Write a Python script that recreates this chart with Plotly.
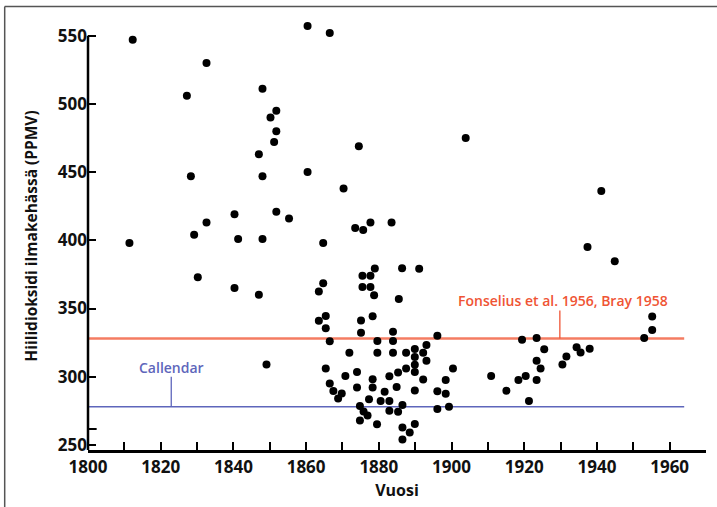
import plotly.graph_objects as go

# --- data ---
years = [1812.3, 1811.4, 1827.2, 1832.6, 1828.3, 1829.2, 1832.6, 1830.2, 1840.3, 1841.3,
         1840.3, 1847.0, 1848.0, 1847.0, 1848.0, 1848.0, 1849.1, 1850.2, 1851.8, 1851.8,
         1851.2, 1851.8, 1855.3, 1860.4, 1866.5, 1860.4, 1870.3, 1874.5, 1903.9, 1864.7,
         1873.5, 1875.7, 1877.7, 1883.5, 1863.5, 1864.7, 1863.5, 1865.4, 1865.4, 1866.5,
         1865.4, 1866.5, 1867.5, 1868.8, 1869.8, 1871.9, 1870.8, 1874.0, 1874.0, 1875.5,
         1877.7, 1875.5, 1877.7, 1878.9, 1878.7, 1875.1, 1878.3, 1875.1, 1879.6, 1879.6,
         1878.3, 1878.3, 1877.3, 1874.8, 1875.8, 1876.9, 1874.8, 1879.5, 1880.5, 1881.6,
         1882.9, 1882.9, 1882.9, 1883.9, 1883.9, 1883.9, 1884.9, 1885.3, 1885.3, 1886.5,
         1886.5, 1886.5, 1885.5, 1886.4, 1891.1, 1887.5, 1887.5, 1888.5, 1889.9, 1889.9,
         1889.9, 1889.9, 1889.9, 1889.9, 1892.2, 1893.1, 1893.1, 1892.2, 1896.1, 1896.1,
         1896.1, 1898.4, 1898.4, 1899.3, 1900.4, 1910.9, 1915.1, 1918.4, 1919.4, 1920.4,
         1921.3, 1923.4, 1923.4, 1923.4, 1924.5, 1925.5, 1930.5, 1931.6, 1934.4, 1935.5,
         1938.0, 1937.4, 1941.2, 1944.9, 1953.0, 1955.2, 1955.2]
co2_ppmv = [547, 398, 506, 530, 447, 404, 413, 373, 419, 401,
            365, 360, 511, 463, 447, 401, 309, 490, 495, 480,
            472, 421, 416, 557, 552, 450, 438, 469, 475, 398,
            409, 407.5, 413, 413, 362.5, 368.6, 341, 344.5, 335.5, 326,
            306, 295, 289.5, 284, 287.7, 317.6, 300.5, 303.5, 292.2, 374,
            374, 365.7, 365.7, 379.4, 359.8, 341.2, 344.3, 332.2, 326.1, 317.6,
            298.2, 292.1, 283.5, 278.5, 274.5, 271.5, 268, 265.2, 282.3, 289,
            300.3, 282.3, 275, 333, 326.1, 317.6, 292.4, 303.1, 274.4, 279.3,
            262.8, 254, 357, 379.5, 379.2, 317.6, 306.1, 259.2, 265.3, 320.3,
            314.4, 308.8, 303.5, 290, 317.6, 323.3, 311.8, 297.9, 330.1, 289.3,
            276.3, 297.6, 287.5, 278, 306.1, 300.6, 289.7, 297.6, 327.1, 300.6,
            282.2, 328.3, 311.8, 297.6, 306.1, 320.1, 308.9, 314.9, 321.7, 317.7,
            320.6, 395, 436.2, 384.6, 328.3, 334.3, 344.1]

fonselius_level = 328
callendar_level = 278
reference_span = [1800, 1964]
fonselius_label = "Fonselius et al. 1956, Bray 1958"
callendar_label = "Callendar"
x_ticks = [1800, 1820, 1840, 1860, 1880, 1900, 1920, 1940, 1960]
y_ticks = [250, 300, 350, 400, 450, 500, 550]
x_title = "Vuosi"
y_title = "Hiilidioksidi ilmakehässä (PPMV)"

FONT = "Open Sans"
RED_LINE = "#f47c62"
RED_TEXT = "#ef5434"
BLUE = "#5e66bb"
INK = "#111111"

fig = go.Figure()

fig.add_trace(go.Scatter(x=reference_span, y=[fonselius_level] * 2, mode="lines",
                         line=dict(color=RED_LINE, width=2.5), hoverinfo="skip"))
fig.add_trace(go.Scatter(x=reference_span, y=[callendar_level] * 2, mode="lines",
                         line=dict(color=BLUE, width=1.3), hoverinfo="skip"))
fig.add_trace(go.Scatter(x=years, y=co2_ppmv, mode="markers",
                         marker=dict(color="black", size=8, line=dict(width=0))))

# connector ticks from labels to the reference lines
fig.add_shape(type="line", xref="x", yref="y", x0=1929.8, x1=1929.8, y0=348.5, y1=fonselius_level,
              line=dict(color=RED_TEXT, width=1.3))
fig.add_shape(type="line", xref="x", yref="y", x0=1822.9, x1=1822.9, y0=300, y1=callendar_level,
              line=dict(color=BLUE, width=1.3))

fig.add_annotation(x=1930.6, y=355.8, xref="x", yref="y", text=fonselius_label, showarrow=False,
                   font=dict(family=FONT, size=14, color=RED_TEXT, weight=600),
                   xanchor="center", yanchor="middle")
fig.add_annotation(x=1822.9, y=306.6, xref="x", yref="y", text=callendar_label, showarrow=False,
                   font=dict(family=FONT, size=14, color=BLUE, weight=600),
                   xanchor="center", yanchor="middle")

# y axis line only up to 550
fig.add_shape(type="line", xref="paper", yref="y", x0=0, x1=0, y0=246.3, y1=550,
              line=dict(color="black", width=2.5))
# stray short tick on y axis
fig.add_shape(type="line", xref="paper", yref="y", x0=0, x1=0.014, y0=261.7, y1=261.7,
              line=dict(color="black", width=2))

# gray frame (top and left edges)
fig.add_shape(type="line", xref="paper", yref="paper", x0=-0.1348, x1=1.05, y0=1.036, y1=1.036,
              line=dict(color="#555555", width=1.5))
fig.add_shape(type="line", xref="paper", yref="paper", x0=-0.1348, x1=-0.1348, y0=1.036, y1=-0.2,
              line=dict(color="#555555", width=1.5))

fig.update_layout(
    width=717, height=507,
    margin=dict(l=88, r=11, t=22, b=57),
    paper_bgcolor="white", plot_bgcolor="white",
    showlegend=False,
    font=dict(family=FONT, color=INK),
)
fig.update_xaxes(
    range=[1800, 1970], tickvals=x_ticks, ticktext=[str(v) for v in x_ticks],
    minor=dict(dtick=10, ticks="inside", ticklen=8, tickwidth=2, tickcolor="black", tick0=1800),
    showgrid=False, zeroline=False, showline=True, linecolor="black", linewidth=2.5,
    ticks="inside", ticklen=8, tickwidth=2, tickcolor="black",
    tickfont=dict(family=FONT, size=17, color=INK, weight="bold"),
    title=dict(text="<b>" + x_title + "</b>", font=dict(family=FONT, size=16, color=INK), standoff=8),
)
fig.update_yaxes(
    range=[246.3, 560], tickvals=y_ticks, ticktext=[str(v) for v in y_ticks],
    showgrid=False, zeroline=False, showline=False,
    ticks="inside", ticklen=8, tickwidth=2, tickcolor="black",
    tickfont=dict(family=FONT, size=17, color=INK, weight="bold"),
    title=dict(text="<b>" + y_title + "</b>", font=dict(family=FONT, size=15.5, color=INK), standoff=16),
)

fig.write_html("out.html", config={"displayModeBar": False},
               post_script="document.body.style.margin='0';document.body.style.overflow='hidden';")
